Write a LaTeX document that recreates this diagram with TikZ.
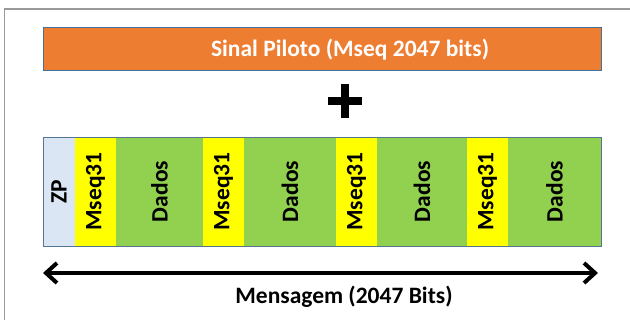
\documentclass[tikz,border=0pt]{standalone}
\usepackage{fontspec}
\setmainfont{Carlito}
\usepackage{tikz}
\usetikzlibrary{arrows.meta,positioning}
\usepackage{xcolor}
\definecolor{pilotorange}{HTML}{ED7D31}
\definecolor{boxblue}{HTML}{41719C}
\definecolor{zpblue}{HTML}{DAE6F4}
\definecolor{dadosgreen}{HTML}{92D050}
\definecolor{mseqyellow}{HTML}{FFFF00}

\begin{document}
\begin{tikzpicture}[
      x=1pt, y=1pt,
      every node/.style={font=\fontsize{23.5}{28}\selectfont\bfseries},
      seg/.style={inner sep=0pt, outer sep=0pt, minimum height=109pt},
      zp/.style={seg, fill=zpblue, minimum width=32pt},
      mseq/.style={seg, fill=mseqyellow, minimum width=41pt},
      dados/.style={seg, fill=dadosgreen},
      thick
    ]
    \useasboundingbox (0,0) rectangle (630,320);
    % outer frame
    \draw[black!40, line width=1.2pt] (4.7,0) -- (4.7,311) -- (630,311);
    % pilot signal bar
    \node[fill=pilotorange, draw=boxblue, line width=1pt, inner sep=0pt,
          minimum width=558pt, minimum height=43pt] (piloto) at (322,270.5) {};
    \node[text=white] (pilototxt) at (350,270) {Sinal Piloto (Mseq 2047 bits)};
    % plus sign
    \coordinate (plus) at (345,219);
    \draw[line width=8pt] ([xshift=-17pt]plus) -- ([xshift=17pt]plus);
    \draw[line width=8pt] ([yshift=-17pt]plus) -- ([yshift=17pt]plus);
    % message frame
    \node[zp, anchor=west] (zp) at (43,128.5) {\rotatebox{90}{ZP}};
    \node[mseq, right=0pt of zp] (m1) {\rotatebox{90}{Mseq31}};
    \node[dados, minimum width=87pt, right=0pt of m1] (d1) {\rotatebox{90}{Dados}};
    \node[mseq, right=0pt of d1] (m2) {\rotatebox{90}{Mseq31}};
    \node[dados, minimum width=92pt, right=0pt of m2] (d2) {\rotatebox{90}{Dados}};
    \node[mseq, right=0pt of d2] (m3) {\rotatebox{90}{Mseq31}};
    \node[dados, minimum width=90pt, right=0pt of m3] (d3) {\rotatebox{90}{Dados}};
    \node[mseq, right=0pt of d3] (m4) {\rotatebox{90}{Mseq31}};
    \node[dados, minimum width=93pt, right=0pt of m4] (d4) {\rotatebox{90}{Dados}};
    \draw[boxblue!70!gray, line width=0.8pt] (zp.north west) rectangle (d4.south east);
    % message length
    \coordinate (al) at (43,47);
    \coordinate (ar) at (598,47);
    \draw[line width=4pt, {Straight Barb[length=11pt,width=20pt]}-{Straight Barb[length=11pt,width=20pt]}] (al) -- (ar);
    \node (msg) at (344,23) {Mensagem (2047 Bits)};
  \end{tikzpicture}
\end{document}
